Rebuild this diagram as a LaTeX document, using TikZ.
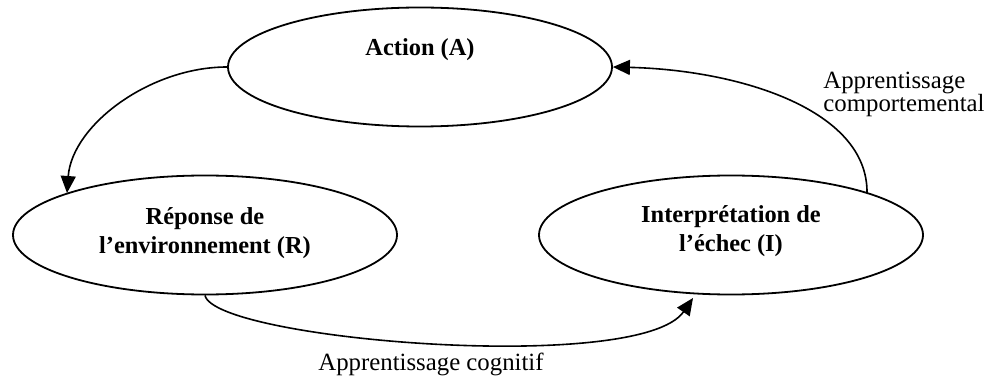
\documentclass[tikz,border=0pt]{standalone}
\usepackage{fontspec}
\setmainfont{Liberation Serif}
\usetikzlibrary{shapes.geometric,arrows.meta}
\begin{document}
\begin{tikzpicture}[x=0.5pt,y=-0.5pt,
  ell/.style={draw,line width=0.9pt,ellipse,inner sep=0pt,minimum width=192pt,minimum height=59.5pt},
  boldtxt/.style={font=\fontsize{12.2}{14.2}\selectfont\bfseries,align=center,inner sep=0pt},
  lbl/.style={font=\fontsize{12.4}{11.5}\selectfont,inner sep=0pt},
  conn/.style={line width=0.8pt,-{Triangle[length=8.5pt,width=7.5pt]}}]
\useasboundingbox (0,0) rectangle (1000,379);
\node[ell] (A) at (420,67) {};
\node[boldtxt] (At) at (420,50) {Action (A)};
\node[ell] (R) at (205,235) {};
\node[boldtxt] (Rt) at (205,233) {Réponse de\\l’environnement (R)};
\node[ell] (I) at (731,235) {};
\node[boldtxt] (It) at (731,231) {Interprétation de\\l’échec (I)};
\coordinate (Itop) at (867,193);
\draw[conn] (A.west) .. controls (150,67) and (72,125) .. (67,193);
\draw[conn] (R.south) .. controls (215,340) and (640,375) .. (693,298);
\draw[conn] (Itop) .. controls (868,110) and (740,70) .. (A.east);
\node[lbl,anchor=west,align=left] (L1) at (823,94) {Apprentissage\\comportemental};
\node[lbl] (L2) at (431,364) {Apprentissage cognitif};
\end{tikzpicture}
\end{document}
